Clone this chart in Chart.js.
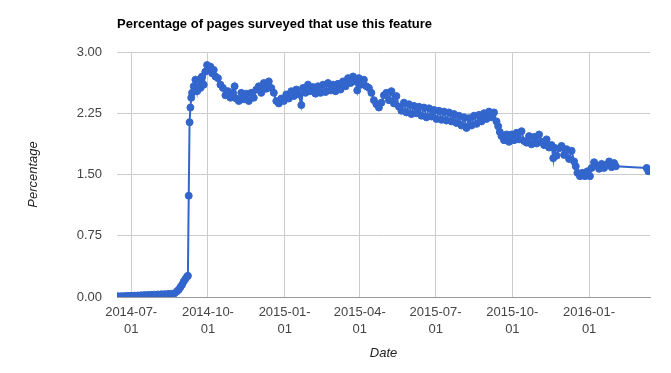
<!DOCTYPE html>
<html>
<head>
<meta charset="utf-8">
<script src="https://cdn.jsdelivr.net/npm/chart.js@4.4.1/dist/chart.umd.min.js"></script>
<style>
  body { margin: 0; background: #fff; }
  #chart { display: block; }
</style>
</head>
<body>
<canvas id="chart" width="671" height="373"></canvas>
<script>
const baseDate = '2014-07-01';
const tickDates = ['2014-07-01', '2014-10-01', '2015-01-01', '2015-04-01', '2015-07-01', '2015-10-01', '2016-01-01'];

// days after baseDate
const dayOffsets = [
    -16, -12, -8, -4, 0, 4, 8, 12, 16, 20, 24, 28, 32, 36, 40, 44, 48, 52,
    55, 57, 59, 61, 63, 65, 67, 68, 69, 70, 71, 72, 73,
    75, 77, 79, 81, 83, 85, 87, 89, 91, 93, 95, 97, 99, 101, 104, 107, 110, 113, 116, 119, 122, 124, 126,
    129, 132, 135, 138, 141, 144, 147, 150, 153, 156, 159, 162, 165, 168, 171, 174, 177, 180, 183, 186, 189, 192, 195, 198, 201, 204,
    206, 209, 212, 215, 218, 221, 224, 227, 230, 233, 236, 239, 242, 245, 248, 251, 254, 257, 260, 263, 266, 269, 271, 273, 276, 279, 282, 285,
    288, 291, 294, 297, 300, 303, 306, 309, 312, 315, 318, 321, 324, 327, 330, 333, 336, 339, 342, 345, 348, 351, 354, 357, 360, 363, 366, 369, 372, 375, 378, 381, 384, 387,
    390, 393, 396, 399, 402, 405, 408, 411, 414, 417, 420, 423, 426, 429, 432, 435, 438, 440, 442, 444,
    447, 450, 453, 456, 459, 462, 465, 468, 471, 474, 477, 480, 483, 486, 489, 492, 495, 498, 501, 504, 506, 507, 510, 513, 516, 519, 522, 525, 528, 531,
    533, 535, 538, 541, 544, 547, 550, 552, 555, 558, 561, 564, 567, 570, 573, 576, 579, 581, 618, 620
];
const values = [
    0.010, 0.010, 0.012, 0.014, 0.015, 0.017, 0.019, 0.021, 0.023, 0.025, 0.027, 0.029, 0.031, 0.033, 0.035, 0.037, 0.040, 0.045,
    0.07, 0.09, 0.12, 0.15, 0.19, 0.22, 0.25, 0.26, 1.24, 2.14, 2.32, 2.44, 2.50,
    2.58, 2.66, 2.52, 2.66, 2.56, 2.70, 2.60, 2.76, 2.84, 2.78, 2.82, 2.74, 2.78, 2.70, 2.68, 2.60, 2.56, 2.47, 2.52, 2.44, 2.50, 2.58, 2.43,
    2.40, 2.50, 2.42, 2.49, 2.40, 2.50, 2.44, 2.54, 2.58, 2.50, 2.62, 2.55, 2.64, 2.56, 2.50, 2.40, 2.37, 2.43, 2.40, 2.48, 2.43, 2.52, 2.46, 2.54, 2.48, 2.35,
    2.56, 2.50, 2.60, 2.52, 2.57, 2.49, 2.58, 2.50, 2.60, 2.51, 2.62, 2.53, 2.60, 2.52, 2.61, 2.54, 2.64, 2.58, 2.68, 2.62, 2.70, 2.64, 2.53, 2.68, 2.60, 2.66, 2.58, 2.56,
    2.50, 2.41, 2.36, 2.32, 2.38, 2.47, 2.50, 2.41, 2.52, 2.37, 2.46, 2.33, 2.28, 2.38, 2.26, 2.36, 2.24, 2.34, 2.25, 2.33, 2.22, 2.32, 2.20, 2.31, 2.21, 2.29, 2.18, 2.28, 2.17, 2.27, 2.16, 2.26, 2.15, 2.24,
    2.13, 2.22, 2.10, 2.20, 2.07, 2.19, 2.10, 2.22, 2.12, 2.23, 2.15, 2.25, 2.18, 2.27, 2.20, 2.26, 2.15, 2.09, 2.02, 1.97,
    1.92, 1.99, 1.90, 1.99, 1.92, 2.01, 1.93, 2.03, 1.91, 1.89, 1.97, 1.87, 1.96, 1.88, 1.99, 1.90, 1.86, 1.93, 1.83, 1.86, 1.70, 1.83, 1.73, 1.82, 1.85, 1.74, 1.81, 1.69, 1.79, 1.66,
    1.60, 1.52, 1.48, 1.52, 1.48, 1.54, 1.48, 1.58, 1.65, 1.61, 1.57, 1.63, 1.58, 1.62, 1.66, 1.59, 1.64, 1.60, 1.58, 1.54
];

const FONT = '"Liberation Sans", Arial, sans-serif';
const DAY = 86400000;

function toDay(s) {
    return (Date.parse(s) - Date.parse(baseDate)) / DAY;
}
const tickDays = tickDates.map(toDay);
const points = dayOffsets.map((d, i) => ({ x: d, y: values[i] }));

// title and axis titles, placed like the original
const textPlugin = {
    id: 'texts',
    afterDraw(chart) {
        const ctx = chart.ctx;
        const a = chart.chartArea;
        ctx.save();
        ctx.fillStyle = '#000';
        ctx.font = 'bold 13px ' + FONT;
        ctx.textAlign = 'left';
        ctx.textBaseline = 'alphabetic';
        ctx.fillText('Percentage of pages surveyed that use this feature', a.left, 28);

        ctx.fillStyle = '#222';
        ctx.font = 'italic 13px ' + FONT;
        ctx.textAlign = 'center';
        ctx.textBaseline = 'middle';
        ctx.fillText('Date', (a.left + a.right) / 2, 353);
        ctx.translate(33, (a.top + a.bottom) / 2);
        ctx.rotate(-Math.PI / 2);
        ctx.fillText('Percentage', 0, 0);
        ctx.restore();
    }
};

new Chart(document.getElementById('chart').getContext('2d'), {
    type: 'line',
    data: {
        datasets: [{
            label: 'Percentage',
            data: points,
            borderColor: '#3366cc',
            backgroundColor: '#3366cc',
            borderWidth: 2,
            pointRadius: 3.5,
            pointBorderWidth: 1,
            tension: 0
        }]
    },
    options: {
        responsive: false,
        animation: false,
        layout: { padding: { top: 52, right: 21, bottom: 0, left: 0 } },
        plugins: {
            legend: { display: false },
            tooltip: { enabled: false },
            title: { display: false }
        },
        scales: {
            x: {
                type: 'linear',
                min: -17,
                max: 622,
                afterBuildTicks: scale => {
                    scale.ticks = tickDays.map(v => ({ value: v }));
                },
                afterFit: scale => { scale.height = 76; },
                grid: { color: '#cccccc', drawTicks: false },
                border: { display: true, color: '#999999' },
                ticks: {
                    autoSkip: false,
                    maxRotation: 0,
                    padding: 7,
                    color: '#444444',
                    font: { family: FONT, size: 13, lineHeight: 1.3 },
                    callback: (v, i) => [tickDates[i].slice(0, 8), tickDates[i].slice(8)]
                }
            },
            y: {
                min: 0,
                max: 3,
                afterFit: scale => { scale.width = 117; },
                grid: { color: '#cccccc', drawTicks: false },
                border: { display: false },
                ticks: {
                    stepSize: 0.75,
                    padding: 15,
                    color: '#444444',
                    font: { family: FONT, size: 13 },
                    callback: v => v.toFixed(2)
                }
            }
        }
    },
    plugins: [textPlugin]
});
</script>
</body>
</html>
